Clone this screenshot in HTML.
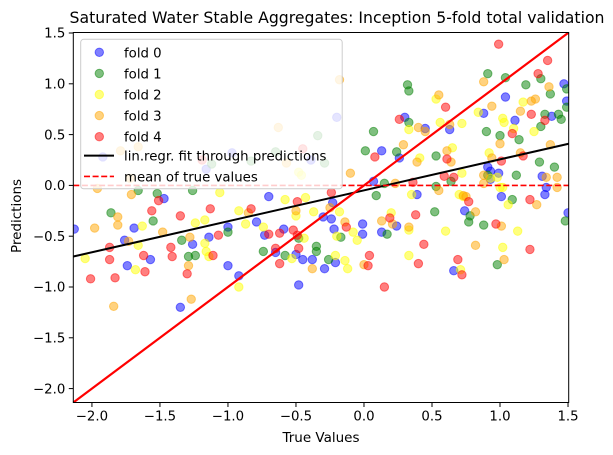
<!DOCTYPE html>
<html><head><meta charset="utf-8">
<style>
html,body{margin:0;padding:0;background:#fff;}
svg{display:block;font-family:"DejaVu Sans","Liberation Sans",sans-serif;}
</style></head>
<body>
<svg id="chart" width="613" height="455" viewBox="0 0 613 455" xmlns="http://www.w3.org/2000/svg">
<rect width="613" height="455" fill="#fff"/>
<text x="337" y="23" font-size="16" text-anchor="middle" textLength="535" lengthAdjust="spacingAndGlyphs">Saturated Water Stable Aggregates: Inception 5-fold total validation</text>
<g id="marks"></g>
<g id="axes"></g>
<text x="321" y="442" font-size="13.5" text-anchor="middle">True Values</text>
<text transform="translate(21,216) rotate(-90)" font-size="13.5" text-anchor="middle">Predictions</text>
<g id="legend"></g>
</svg>
<script>
const xTicks = [-2.0, -1.5, -1.0, -0.5, 0.0, 0.5, 1.0, 1.5];
const yTicks = [-2.0, -1.5, -1.0, -0.5, 0.0, 0.5, 1.0, 1.5];
const axisMin = -2.137;
const axisMax = 1.505;
const foldNames = ["fold 0","fold 1","fold 2","fold 3","fold 4"];
const fold0X = [-2.13,-1.47,-0.70,-1.69,-0.79,-1.00,-1.14,-0.73,-0.59,-1.26,-1.76,-0.65,-0.50,-0.45,-0.38,-1.57,-1.74,-1.00,-0.92,-0.48,-1.35,0.07,0.39,0.99,0.93,1.31,1.34,1.33,1.01,-0.23,-0.30,-0.24,0.74,-0.01,-0.01,-0.22,0.24,0.13,1.50,-0.21,-0.29,0.66,1.47,1.04,1.49,0.88,1.38,1.11,0.30,0.63,0.45,0.13,0.26,0.91,0.93,-1.92,-0.97,-1.16,-0.39,-0.20];
const fold0Y = [-0.43,-0.13,-0.11,-0.42,-0.36,-0.41,-0.51,-0.49,-0.43,-0.58,-0.54,-0.66,-0.68,-0.73,-0.73,-0.73,-0.79,-0.79,-0.89,-0.98,-1.20,0.04,-0.09,0.12,0.06,0.09,-0.02,-0.09,-0.11,-0.17,-0.31,-0.33,-0.25,-0.38,-0.48,-0.43,-0.40,-0.46,-0.27,-0.76,-0.82,-0.84,1.00,0.87,0.83,0.71,0.68,0.64,0.67,0.55,0.56,0.34,0.27,0.18,0.14,0.28,0.32,0.16,0.25,0.67];
const fold1X = [-1.66,-1.52,-1.26,-1.86,-1.55,-1.34,-1.29,-1.24,-1.00,-0.74,-0.58,-0.48,-0.35,-0.35,0.15,0.53,0.64,0.91,1.12,0.09,1.09,0.52,0.78,0.77,-0.17,0.17,0.88,1.48,-0.26,0.98,0.91,1.04,1.30,1.19,1.49,0.32,0.33,1.37,1.49,1.33,1.43,1.45,0.33,0.07,0.90,1.30,1.00,1.14,0.01,0.24,0.53,1.29,1.40,-0.34,-0.65,-0.83,-1.12,-0.29];
const fold1Y = [-0.05,-0.08,-0.05,-0.27,-0.35,-0.54,-0.70,-0.69,-0.46,-0.65,-0.69,-0.52,-0.60,-0.65,0.02,-0.01,0.04,0.10,0.10,-0.10,-0.14,-0.26,-0.30,-0.36,-0.51,-0.48,-0.39,-0.35,-0.73,-0.78,1.10,1.06,1.05,0.99,0.95,0.99,0.93,0.90,0.77,0.70,0.70,0.65,0.62,0.53,0.53,0.58,0.49,0.45,0.34,0.33,0.29,0.23,0.18,0.49,0.33,0.24,0.21,0.22];
const fold2X = [-1.06,-0.92,-0.58,-0.43,-0.50,-0.37,-1.63,-1.24,-1.17,-0.87,-0.74,-0.44,-1.66,-2.05,-1.17,-1.16,-1.14,-0.53,-1.68,-0.92,0.72,0.98,1.00,1.02,0.35,0.70,1.06,-0.18,-0.08,-0.05,-0.20,0.20,0.33,0.60,1.13,-0.21,-0.14,-0.12,0.33,0.71,1.02,0.53,1.17,0.84,1.02,1.03,0.33,0.56,0.72,1.10,1.25,0.65,0.41,0.92,0.93,0.73,-0.48,-0.46];
const fold2Y = [-0.07,-0.25,-0.14,-0.12,-0.30,-0.26,-0.40,-0.37,-0.34,-0.38,-0.41,-0.52,-0.59,-0.72,-0.57,-0.65,-0.70,-0.72,-0.83,-1.00,0.12,0.08,-0.02,-0.02,-0.09,-0.09,-0.19,-0.26,-0.46,-0.54,-0.50,-0.27,-0.44,-0.45,-0.45,-0.69,-0.74,-0.82,-0.69,-0.83,-0.61,0.85,0.82,0.72,0.66,0.62,0.55,0.62,0.61,0.56,0.53,0.37,0.27,0.32,0.07,-0.11,0.13,0.10];
const fold3X = [-1.96,-1.71,-1.81,-1.81,-0.85,-0.50,-1.98,-1.48,-1.28,-1.73,-1.29,-0.38,-1.27,-1.84,-0.10,0.23,0.55,0.88,1.34,1.42,1.42,0.73,0.75,1.27,-0.25,-0.14,0.82,0.13,0.21,0.33,1.01,0.00,0.82,1.03,0.88,1.36,0.55,0.94,1.23,1.26,1.15,0.40,0.63,0.45,1.00,1.37,0.29,0.61,0.64,0.39,0.94,1.15,0.88,-1.79,-1.66,-0.63,-0.57,-1.72,-0.18];
const fold3Y = [-0.03,-0.09,-0.31,-0.39,-0.27,-0.25,-0.42,-0.46,-0.51,-0.55,-0.79,-0.82,-1.12,-1.19,0.12,0.02,-0.05,0.10,0.08,0.08,-0.02,-0.10,-0.11,-0.19,-0.22,-0.36,-0.26,-0.35,-0.38,-0.41,-0.40,-0.78,-0.59,-0.73,1.02,0.97,0.89,0.78,0.83,0.85,0.73,0.57,0.60,0.53,0.41,0.40,0.40,0.34,0.23,0.23,0.27,0.32,0.02,0.34,0.38,0.57,0.22,0.07,1.04];
const fold4X = [-1.51,-1.56,-1.35,-1.13,-0.83,-0.49,-1.07,-0.70,-0.62,-0.52,-0.49,-0.65,-0.48,-1.87,-1.87,-1.62,-1.42,-1.41,-1.11,-1.61,-1.30,-2.01,-1.83,-0.62,0.36,0.66,-0.24,0.77,1.22,0.38,-0.13,0.19,0.97,0.04,0.03,0.44,0.40,1.22,0.69,0.72,0.15,0.99,1.35,1.28,0.60,1.23,1.33,0.26,1.09,0.08,0.61,1.01,1.17,0.59,-0.45,-1.19];
const fold4Y = [-0.15,-0.25,-0.30,-0.23,-0.23,-0.16,-0.49,-0.48,-0.47,-0.44,-0.49,-0.62,-0.62,-0.61,-0.73,-0.69,-0.61,-0.70,-0.69,-0.85,-0.87,-0.92,-0.91,-0.77,0.03,0.08,-0.07,-0.16,-0.14,-0.29,-0.41,-0.32,-0.38,-0.69,-0.79,-0.58,-0.77,-0.63,-0.73,-0.88,-1.00,1.39,1.23,1.10,0.77,0.70,0.64,0.65,0.51,0.28,0.26,0.24,0.29,0.09,0.36,0.25];
const fitEndpointsY = [-0.70, 0.41];
const meanTrue = 0.0;

const NS = "http://www.w3.org/2000/svg";
const L = 73.3, R = 568.7, T = 32.5, B = 402.5;
function sx(v){ return L + (v - axisMin) / (axisMax - axisMin) * (R - L); }
function sy(v){ return B - (v - axisMin) / (axisMax - axisMin) * (B - T); }
function mk(tag, attrs, parent){ const e = document.createElementNS(NS, tag); for (const k in attrs) e.setAttribute(k, attrs[k]); parent.appendChild(e); return e; }

const colors = ["#0000ff","#008000","#ffff00","#ffa500","#ff0000"];
const foldX = [fold0X, fold1X, fold2X, fold3X, fold4X];
const foldY = [fold0Y, fold1Y, fold2Y, fold3Y, fold4Y];
const marks = document.getElementById("marks");
const clip = mk("clipPath", {id:"plotclip"}, marks);
mk("rect", {x:L, y:T, width:R-L, height:B-T}, clip);
const plotG = mk("g", {"clip-path":"url(#plotclip)"}, marks);



for (let f = 0; f < 5; f++) {
  const g = mk("g", {}, plotG);
  
  
  for (let i = 0; i < foldX[f].length; i++) {
    const c = mk("circle", {cx: sx(foldX[f][i]), cy: sy(foldY[f][i]), r: 4.2, fill: colors[f], "fill-opacity": 0.5, stroke: colors[f], "stroke-opacity": 0.5, "stroke-width": 1}, g);
    
    
  }
}
const fit = mk("line", {x1: sx(axisMin), y1: sy(fitEndpointsY[0]), x2: sx(axisMax), y2: sy(fitEndpointsY[1]), stroke:"#000", "stroke-width":2}, plotG);


const mean = mk("line", {x1: sx(axisMin), y1: sy(meanTrue), x2: sx(axisMax), y2: sy(meanTrue), stroke:"#ff0000", "stroke-width":1.6, "stroke-dasharray":"6,2.6"}, plotG);


const ident = mk("line", {x1: sx(axisMin), y1: sy(axisMin), x2: sx(axisMax), y2: sy(axisMax), stroke:"#ff0000", "stroke-width":2.2}, plotG);



const axes = document.getElementById("axes");
const frame = mk("rect", {x:L, y:T, width:R-L, height:B-T, fill:"none", stroke:"#000", "stroke-width":1}, axes);


xTicks.forEach(v => {
  const x = sx(v);
  const t = mk("line", {x1:x, y1:B, x2:x, y2:B+4.5, stroke:"#000", "stroke-width":1}, axes);
  
  
  const lb = mk("text", {x:x, y:B+18, "font-size":13.3, "text-anchor":"middle"}, axes);
  
  
  lb.textContent = (v < 0 ? "\u2212" : "") + Math.abs(v).toFixed(1);
});
yTicks.forEach(v => {
  const y = sy(v);
  const t = mk("line", {x1:L-4.5, y1:y, x2:L, y2:y, stroke:"#000", "stroke-width":1}, axes);
  
  
  const lb = mk("text", {x:L-8, y:y+4.7, "font-size":13.3, "text-anchor":"end"}, axes);
  
  
  lb.textContent = (v < 0 ? "\u2212" : "") + Math.abs(v).toFixed(1);
});

const lg = document.getElementById("legend");


const box = mk("rect", {x:80.7, y:39.3, width:261.5, height:149.5, rx:3, fill:"#fff", "fill-opacity":0.8, stroke:"#cccccc", "stroke-width":1}, lg);


for (let f = 0; f < 5; f++) {
  const y = 52.3 + f * 21.1;
  const c = mk("circle", {cx:99.3, cy:y, r:4.2, fill:colors[f], "fill-opacity":0.5, stroke: colors[f], "stroke-opacity": 0.5, "stroke-width": 1}, lg);
  
  
  const t = mk("text", {x:124, y:y+5, "font-size":13.3}, lg);
  
  
  t.textContent = foldNames[f];
}
const l1 = mk("line", {x1:84, y1:155.6, x2:114, y2:155.6, stroke:"#000", "stroke-width":2}, lg);


const t1 = mk("text", {x:124, y:160.6, "font-size":13.3}, lg);


t1.textContent = "lin.regr. fit through predictions";
const l2 = mk("line", {x1:84, y1:176.4, x2:114, y2:176.4, stroke:"#ff0000", "stroke-width":1.6, "stroke-dasharray":"6,2.6"}, lg);


const t2 = mk("text", {x:124, y:181.4, "font-size":13.3}, lg);


t2.textContent = "mean of true values";
</script>
</body></html>
